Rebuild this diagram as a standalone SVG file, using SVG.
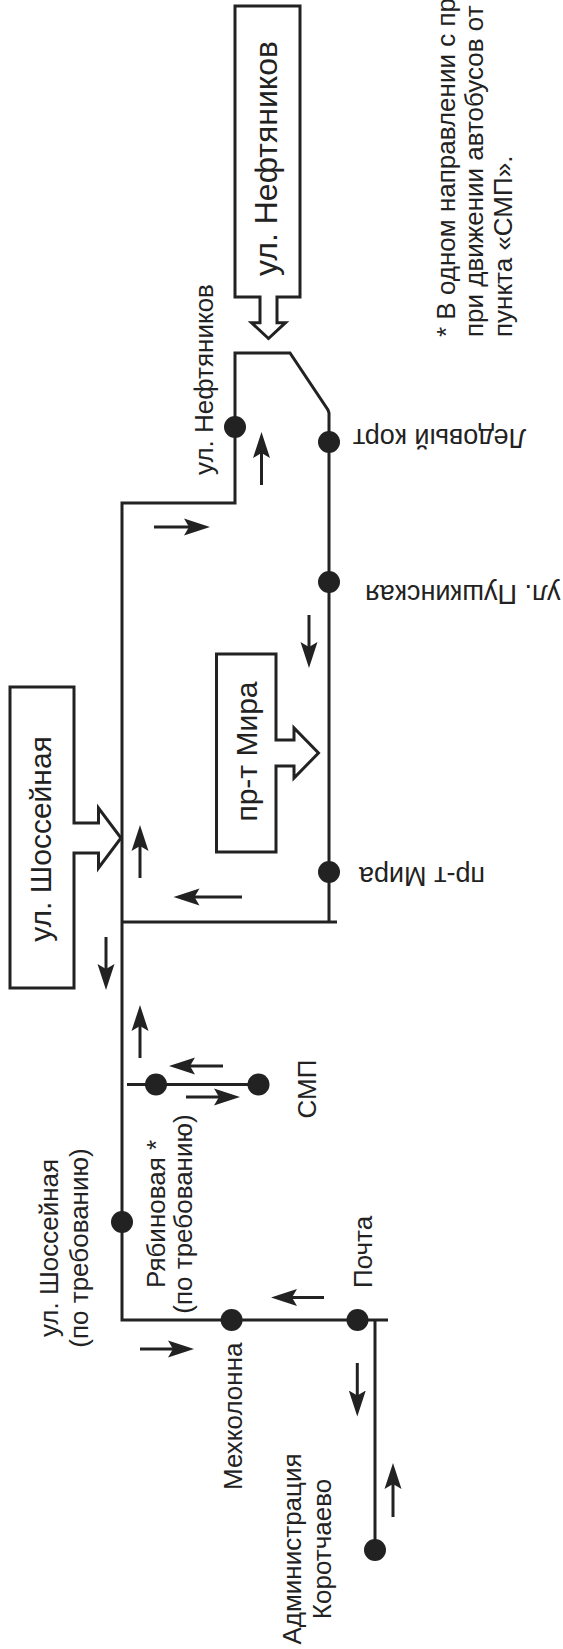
<svg xmlns="http://www.w3.org/2000/svg" width="563" height="1649" viewBox="0 0 563 1649">
<style>
.ln{fill:none;stroke:#222;stroke-width:3;stroke-linejoin:miter}
.box{fill:#fff;stroke:#222;stroke-width:3;stroke-linejoin:miter}
.dot{fill:#222}
.t{font-family:"Liberation Sans",Arial,sans-serif;fill:#222}
.lb{font-size:26px}
.lh{font-size:27px}
.ar{fill:none;stroke:#222;stroke-width:3;marker-end:url(#ah)}
</style>
<defs>
<marker id="ah" markerUnits="userSpaceOnUse" markerWidth="27" markerHeight="18" viewBox="0 0 27 18" refX="10" refY="9" orient="auto">
<path d="M0,0.5 L26,9 L0,17.5 L5,9 Z" fill="#222"/>
</marker>
</defs>
<rect x="0" y="0" width="563" height="1649" fill="#fff"/>

<g id="connectors">
<path class="ln" d="M388 1320 H122 V503 H235 V353 H290 L328 410 L329 413 V922"/>
<path class="ln" d="M122 922 H337"/>
<path class="ln" d="M375 1320 V1550"/>
<path class="ln" d="M127 1084.5 H258.5"/>
<line class="ar" x1="261.5" y1="485" x2="261.5" y2="448"/>
<line class="ar" x1="154" y1="527" x2="194" y2="527"/>
<line class="ar" x1="309" y1="615" x2="309" y2="652"/>
<line class="ar" x1="140" y1="878" x2="140" y2="841"/>
<line class="ar" x1="242" y1="897" x2="189.5" y2="897"/>
<line class="ar" x1="106" y1="937" x2="106" y2="974"/>
<line class="ar" x1="140" y1="1058" x2="140" y2="1021"/>
<line class="ar" x1="223" y1="1066" x2="185" y2="1066"/>
<line class="ar" x1="186" y1="1097" x2="224" y2="1097"/>
<line class="ar" x1="324" y1="1297.5" x2="287" y2="1297.5"/>
<line class="ar" x1="140" y1="1349" x2="178" y2="1349"/>
<line class="ar" x1="357.3" y1="1363" x2="357.3" y2="1400.5"/>
<line class="ar" x1="393" y1="1517" x2="393" y2="1479"/>
</g>

<g id="street-neftyanikov">
<path class="box" d="M235 6 H300 V297 H277 V322.7 H285.5 L268.5 338.5 L251.5 322.7 H260 V297 H235 Z"/>
<text class="t" font-size="32" text-anchor="middle" transform="translate(277,158.5) rotate(-90)">ул. Нефтяников</text>
</g>

<g id="street-shosseynaya">
<path class="box" d="M10 687 H74 V823 H98.5 V808 L121 838 L98.5 868 V853 H74 V988 H10 Z"/>
<text class="t" font-size="30" text-anchor="middle" transform="translate(51,839) rotate(-90)">ул. Шоссейная</text>
</g>

<g id="street-mira">
<path class="box" d="M216.5 654 H276 V740 H294 V728 L318.5 753 L294 778 V766 H276 V852 H216.5 Z"/>
<text class="t" font-size="30" text-anchor="middle" transform="translate(256.5,751.5) rotate(-90)">пр-т Мира</text>
</g>

<g id="stop-neftyanikov">
<circle class="dot" cx="235" cy="427" r="11"/>
<text class="t lb" transform="translate(213,475) rotate(-90)">ул. Нефтяников</text>
</g>

<g id="stop-ledovy-kort">
<circle class="dot" cx="329" cy="442" r="11"/>
<text class="t lh" text-anchor="end" transform="translate(353,429) rotate(180)">Ледовый корт</text>
</g>

<g id="stop-pushkinskaya">
<circle class="dot" cx="329" cy="582" r="11"/>
<text class="t lh" text-anchor="end" transform="translate(365,585) rotate(180)">ул. Пушкинская</text>
</g>

<g id="stop-mira">
<circle class="dot" cx="329" cy="872" r="11"/>
<text class="t lh" text-anchor="end" transform="translate(359,867) rotate(180)">пр-т Мира</text>
</g>

<g id="stop-ryabinovaya">
<circle class="dot" cx="156" cy="1084.5" r="11"/>
<text class="t lb" text-anchor="middle" transform="translate(165,1214) rotate(-90)">Рябиновая *</text>
<text class="t lb" text-anchor="middle" transform="translate(192,1214) rotate(-90)">(по требованию)</text>
</g>

<g id="stop-smp">
<circle class="dot" cx="258.5" cy="1084.5" r="11"/>
<text class="t lb" text-anchor="middle" transform="translate(316,1089) rotate(-90)">СМП</text>
</g>

<g id="stop-shosseynaya">
<circle class="dot" cx="122" cy="1222" r="11"/>
<text class="t lb" text-anchor="middle" transform="translate(57.5,1248) rotate(-90)">ул. Шоссейная</text>
<text class="t lb" text-anchor="middle" transform="translate(87.5,1248) rotate(-90)">(по требованию)</text>
</g>

<g id="stop-mehkolonna">
<circle class="dot" cx="231.6" cy="1320" r="11"/>
<text class="t lb" transform="translate(241.5,1490) rotate(-90)">Мехколонна</text>
</g>

<g id="stop-pochta">
<circle class="dot" cx="357.5" cy="1320" r="11"/>
<text class="t lb" transform="translate(371.5,1288) rotate(-90)">Почта</text>
</g>

<g id="stop-administration">
<circle class="dot" cx="375" cy="1550" r="11"/>
<text class="t lb" text-anchor="middle" transform="translate(301,1549) rotate(-90)">Администрация</text>
<text class="t lb" text-anchor="middle" transform="translate(331,1549) rotate(-90)">Коротчаево</text>
</g>

<g id="footnote">
<text class="t lb" transform="translate(455,337) rotate(-90)">* В одном направлении с пр</text>
<text class="t lb" transform="translate(483.3,337) rotate(-90)">при движении автобусов от</text>
<text class="t lb" transform="translate(511.7,337) rotate(-90)">пункта «СМП».</text>
</g>
</svg>
